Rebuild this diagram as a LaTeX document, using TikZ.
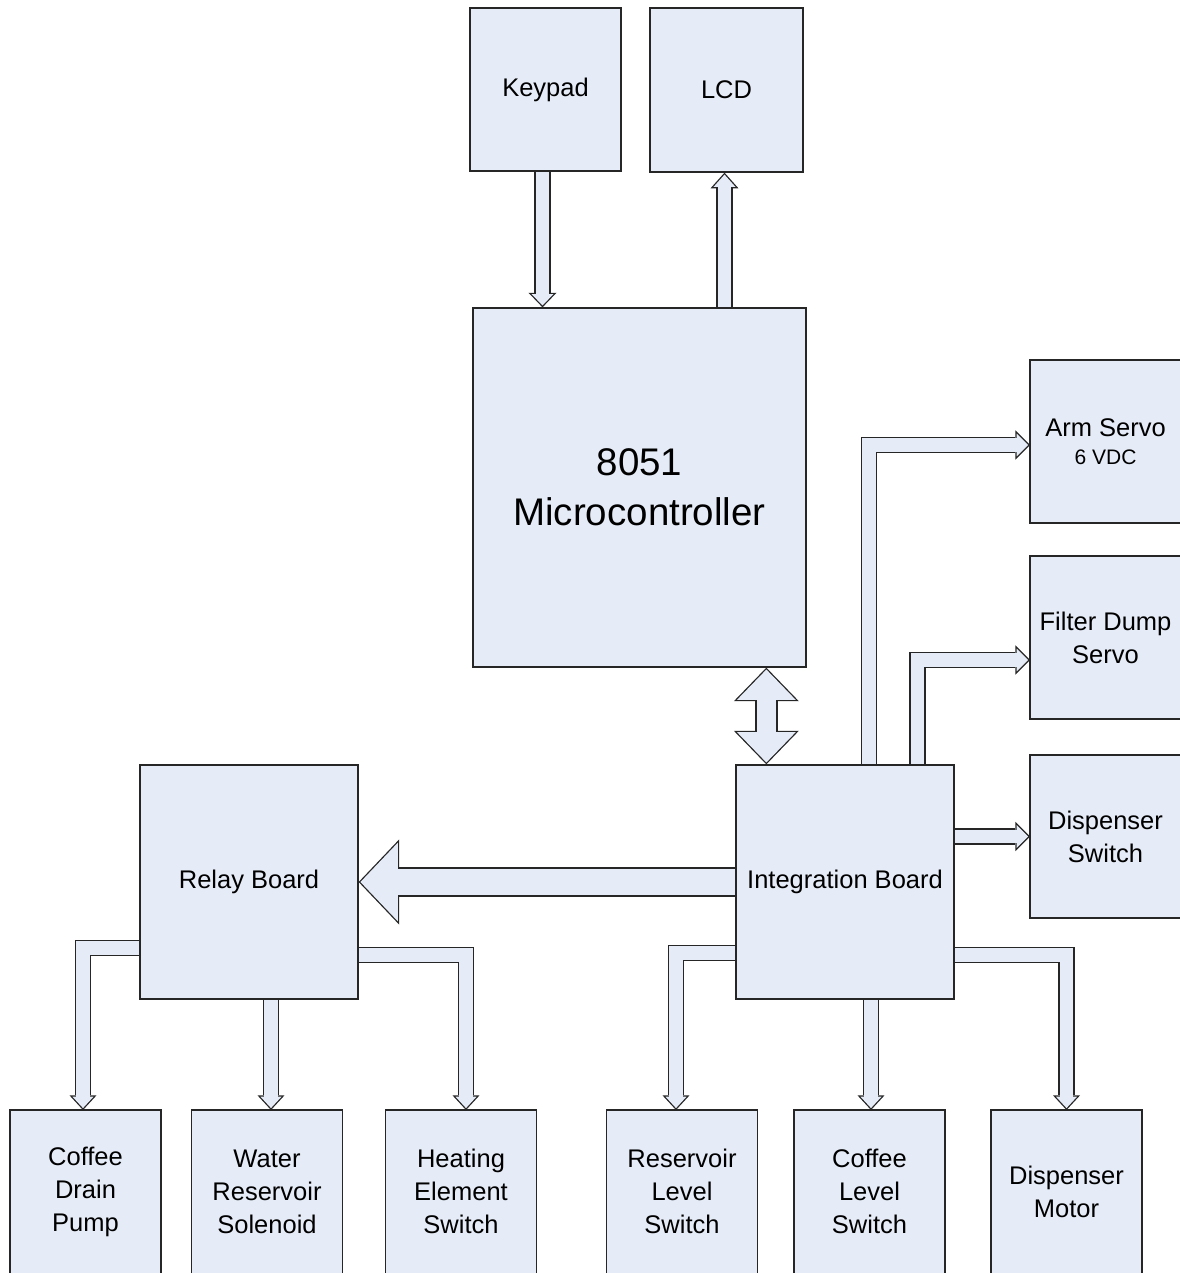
\documentclass[tikz,border=0pt]{standalone}
\usepackage{fontspec}
\setmainfont{Liberation Sans}
\usetikzlibrary{arrows.meta}

\definecolor{boxfill}{HTML}{E6ECF7}
\definecolor{boxline}{HTML}{262626}

\pgfdeclarelayer{background}
\pgfsetlayers{background,main}

% hollow block arrow: [heads] {shaft} {head length} {head half width} {path}
\def\twoheads{<->}
\newcommand\blockarrow[5][->]{%
  \pgfmathsetmacro\inrad{#4*#3/(#4+sqrt(#4*#4+#3*#3))}%
  \pgfmathsetmacro\lenout{#3*(\inrad+0.65)/\inrad}%
  \pgfmathsetmacro\widout{2*#4*(\inrad+0.65)/\inrad}%
  \pgfmathsetmacro\lenin{#3*(\inrad-0.65)/\inrad}%
  \pgfmathsetmacro\widin{2*#4*(\inrad-0.65)/\inrad}%
  \pgfmathsetmacro\tipgap{1.3*(#3-\inrad)/\inrad}%
  \def\headspec{#1}%
  \ifx\headspec\twoheads\let\startgap\tipgap\else\def\startgap{0}\fi
  \draw[boxline, line width=#2pt+1.3pt,
    >={Triangle[length=\lenout pt, width=\widout pt, line width=0pt]}, #1] #5;
  \draw[boxfill, line width=#2pt-1.3pt,
    >={Triangle[length=\lenin pt, width=\widin pt, line width=0pt]},
    shorten <=\startgap pt, shorten >=\tipgap pt, #1] #5;
}

\begin{document}
\begin{tikzpicture}[x=1pt, y=-1pt,
    block/.style={draw=boxline, fill=boxfill, line width=1.3pt, inner sep=0pt,
      minimum width=151pt, minimum height=163pt, align=center,
      font=\fontsize{25.5}{33}\selectfont},
    cutblock/.style={block, draw=none, outer sep=0pt},
    cutedge/.style={draw=boxline, line width=1.3pt}]
\useasboundingbox (0,0) rectangle (1179,1273);

\node[block] (keypad) at (545.5,89.5) {Keypad};
\node[block, minimum width=153pt, minimum height=164pt] (lcd) at (726.5,90) {LCD};
\node[block, minimum width=333pt, minimum height=359pt,
  font=\fontsize{38.5}{50}\selectfont] (mcu) at (639.5,487.5) {8051\\Microcontroller};

\node[cutblock] (armservo) at (1105.5,441.5)
  {Arm Servo\\[-4.5pt]{\fontsize{21}{25}\selectfont 6 VDC}};
\node[cutblock] (filterservo) at (1105.5,637.5) {Filter Dump\\Servo};
\node[cutblock] (dispswitch) at (1105.5,836.5) {Dispenser\\Switch};

\node[block, minimum width=218pt, minimum height=234pt] (relay) at (249,882) {Relay Board};
\node[block, minimum width=218pt, minimum height=234pt] (integ) at (845,882) {Integration Board};

\node[cutblock] (drainpump) at (85.5,1191.5) {Coffee\\Drain\\Pump};
\node[cutblock] (solenoid) at (267,1191.5) {Water\\Reservoir\\Solenoid};
\node[cutblock] (heating) at (461,1191.5) {Heating\\Element\\Switch};
\node[cutblock] (reslevel) at (682,1191.5) {Reservoir\\Level\\Switch};
\node[cutblock] (coflevel) at (869.5,1191.5) {Coffee\\Level\\Switch};
\node[cutblock] (motor) at (1066.5,1191.5) {Dispenser\\Motor};

% boxes running off the page edge
\foreach \n in {armservo,filterservo,dispswitch}
  \draw[cutedge] ([xshift=4pt]\n.north east) -- (\n.north west) -- (\n.south west)
    -- ([xshift=4pt]\n.south east);
\foreach \n in {drainpump,solenoid,heating,reslevel,coflevel,motor}
  \draw[cutedge] ([yshift=-4pt]\n.south west) -- (\n.north west) -- (\n.north east)
    -- ([yshift=-4pt]\n.south east);

\begin{pgfonlayer}{background}
  \blockarrow{15}{13}{12.5}{([xshift=-3pt]keypad.south) -- ([xshift=-3pt]keypad.south |- mcu.north)}
  \blockarrow{15}{14}{12.5}{([xshift=-2pt]lcd.south |- mcu.north) -- ([xshift=-2pt]lcd.south)}
  \blockarrow[<->]{21}{32}{31}{([xshift=31pt]integ.north west |- mcu.south) -- ([xshift=31pt]integ.north west)}
  \blockarrow{28}{39}{41}{(integ.west) -- (relay.east)}

  \blockarrow{15}{13}{13}{([xshift=133.5pt]integ.north west) |- ([yshift=-3.5pt]armservo.west)}
  \blockarrow{15}{13}{13}{([xshift=182pt]integ.north west) |- ([yshift=-22.5pt]filterservo.west)}
  \blockarrow{15}{13}{13}{(integ.east |- dispswitch.west) -- (dispswitch.west)}

  \blockarrow{15}{13}{12}{([yshift=52pt]relay.south west) -| ([xshift=-2.5pt]drainpump.north)}
  \blockarrow{15}{13}{12}{([xshift=4pt]solenoid.north |- relay.south) -- ([xshift=4pt]solenoid.north)}
  \blockarrow{15}{13}{12}{([yshift=45pt]relay.south east) -| ([xshift=5pt]heating.north)}

  \blockarrow{15}{13}{12}{([yshift=47pt]integ.south west) -| ([xshift=-6pt]reslevel.north)}
  \blockarrow{15}{13}{12}{([xshift=1.5pt]coflevel.north |- integ.south) -- ([xshift=1.5pt]coflevel.north)}
  \blockarrow{15}{13}{12}{([yshift=45pt]integ.south east) -| (motor.north)}
\end{pgfonlayer}
\end{tikzpicture}
\end{document}
